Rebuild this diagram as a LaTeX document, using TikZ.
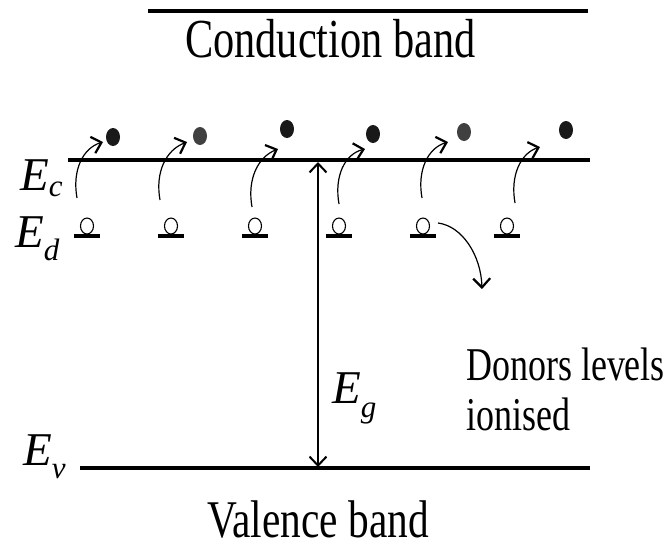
\documentclass[tikz,border=0pt]{standalone}
\usepackage{fontspec}
\setmainfont{Liberation Serif}
\usetikzlibrary{arrows.meta}
\begin{document}
\begin{tikzpicture}[x=1pt,y=-1pt,
  band/.style={line width=3.4pt},
  hop/.style={line width=1.2pt,-{Straight Barb[length=9pt,width=17pt,line width=2.2pt]}},
  gap/.style={line width=1.9pt,{Straight Barb[length=9pt,width=17pt,line width=2pt]}-{Straight Barb[length=9pt,width=17pt,line width=2pt]}},
  lbl/.style={inner sep=0pt,anchor=base west},
  elec/.style={fill=#1,draw=none},
  donorbar/.style={line width=3.4pt},
  donor/.style={draw,line width=1.1pt}]
\useasboundingbox (0,0) rectangle (671,550);
% bands
\coordinate (cbL) at (148,11); \coordinate (cbR) at (588,11);
\coordinate (ecL) at (68,160); \coordinate (ecR) at (590,160);
\coordinate (evL) at (80,468); \coordinate (evR) at (590,468);
\draw[band] (cbL) -- (cbR);
\draw[band] (ecL) -- (ecR);
\draw[band] (evL) -- (evR);
% band gap arrow
\coordinate (egT) at (318,162); \coordinate (egB) at (318,467);
\draw[gap] (egB) -- (egT);
% labels
\node[lbl] (cbt) at (185,57) {\fontsize{55}{60}\selectfont\scalebox{0.77}[1]{Conduction band}};
\node[lbl] (vbt) at (207,537) {\fontsize{53}{60}\selectfont\scalebox{0.78}[1]{Valence band}};
\node[lbl] (don1) at (466,380) {\fontsize{47}{50}\selectfont\scalebox{0.765}[1]{Donors levels}};
\node[lbl] (don2) at (466,430) {\fontsize{47}{50}\selectfont\scalebox{0.765}[1]{ionised}};
\node[lbl] (Ec) at (20,190) {\fontsize{47}{50}\selectfont\itshape E\raisebox{-6pt}{\fontsize{31}{31}\selectfont c}};
\node[lbl] (Ed) at (15,247) {\fontsize{47}{50}\selectfont\itshape E\raisebox{-13pt}{\fontsize{31}{31}\selectfont d}};
\node[lbl] (Ev) at (23,465) {\fontsize{47}{50}\selectfont\itshape E\raisebox{-13pt}{\fontsize{31}{31}\selectfont v}};
\node[lbl] (Eg) at (332,403) {\fontsize{47}{50}\selectfont\itshape E\raisebox{-14pt}{\fontsize{31}{31}\selectfont g}};
% donor levels
\foreach \x/\n in {87/1,171/2,255/3,339/4,423/5,507/6}{
  \draw[donorbar] (\x-13,236) -- (\x+13,236);
  \draw[donor] (\x,226) ellipse [x radius=6.5, y radius=8];
  \coordinate (d\n) at (\x,226);
}
% electrons
\fill[elec=black!90] (113,137) ellipse [x radius=7, y radius=9];
\fill[elec=black!75] (200,136) ellipse [x radius=7, y radius=9];
\fill[elec=black!90] (287,129) ellipse [x radius=7, y radius=9];
\fill[elec=black!90] (373,134) ellipse [x radius=7, y radius=9];
\fill[elec=black!75] (464,132) ellipse [x radius=7, y radius=9];
\fill[elec=black!90] (566,130) ellipse [x radius=7, y radius=9];
% excitation arrows
\foreach \sx/\sy/\ex/\ey in {77/198/103/142, 160/200/187/142, 252/207/278/149, 339/204/365/149, 422/198/448/142, 515/203/540/147}{
  \draw[hop] (\sx,\sy) .. controls (\sx-5,\sy-28) and (\sx+6,\sy-50) .. (\ex,\ey);
}
% ionised arrow
\coordinate (ionS) at (438,223); \coordinate (ionE) at (482,289);
\draw[hop] (ionS) .. controls (462,226) and (481,255) .. (ionE);
\end{tikzpicture}
\end{document}
